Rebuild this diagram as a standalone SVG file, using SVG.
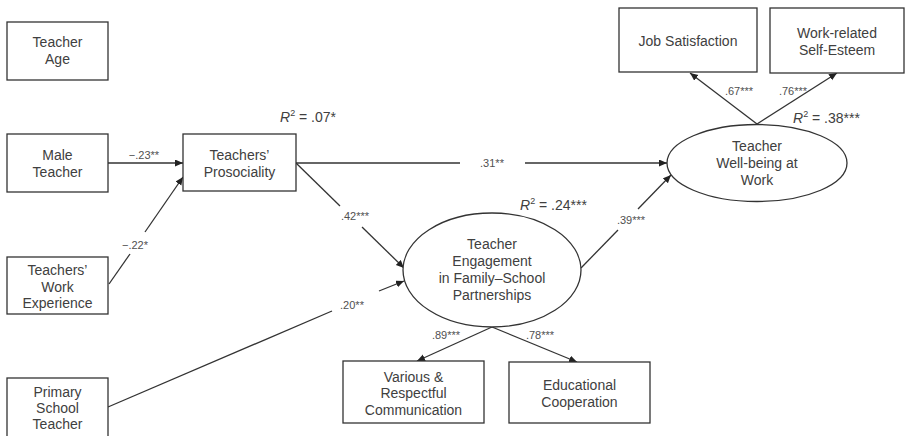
<svg xmlns="http://www.w3.org/2000/svg" width="906" height="436" viewBox="0 0 906 436">
<defs>
<style>
.box{fill:#fff;stroke:#333;stroke-width:1.3}
.ell{fill:#fff;stroke:#333;stroke-width:1.3}
.t{font-family:"Liberation Sans",Arial,sans-serif;font-size:14px;fill:#404040;text-anchor:middle}
.c{font-family:"Liberation Sans",Arial,sans-serif;font-size:11px;fill:#505050;text-anchor:middle}
.r{font-family:"Liberation Sans",Arial,sans-serif;font-size:14px;fill:#404040}
.ln{stroke:#333;stroke-width:1.3;fill:none}
</style>
<marker id="ah" markerUnits="userSpaceOnUse" markerWidth="9" markerHeight="8" refX="8" refY="3.5" orient="auto">
<path d="M0,0 L8,3.5 L0,7 z" fill="#222"/>
</marker>
</defs>
<rect width="906" height="436" fill="#fff"/>

<g id="connectors">
<line class="ln" x1="108" y1="163" x2="183" y2="163" marker-end="url(#ah)"/>
<line class="ln" x1="109" y1="284" x2="130" y2="254"/>
<line class="ln" x1="145" y1="232" x2="183" y2="177" marker-end="url(#ah)"/>
<line class="ln" x1="296" y1="163" x2="460" y2="163"/>
<line class="ln" x1="525" y1="163" x2="667" y2="163" marker-end="url(#ah)"/>
<line class="ln" x1="296" y1="163" x2="340" y2="206"/>
<line class="ln" x1="362" y1="227" x2="404" y2="268" marker-end="url(#ah)"/>
<line class="ln" x1="108" y1="407" x2="332" y2="311"/>
<line class="ln" x1="379" y1="291" x2="404" y2="281" marker-end="url(#ah)"/>
<line class="ln" x1="581" y1="268" x2="618" y2="230"/>
<line class="ln" x1="638" y1="209" x2="671" y2="175" marker-end="url(#ah)"/>
<line class="ln" x1="757" y1="124" x2="690" y2="73" marker-end="url(#ah)"/>
<line class="ln" x1="757" y1="124" x2="837" y2="73" marker-end="url(#ah)"/>
<line class="ln" x1="492" y1="327" x2="417" y2="361" marker-end="url(#ah)"/>
<line class="ln" x1="492" y1="327" x2="577" y2="362" marker-end="url(#ah)"/>
<text class="c" x="144" y="159">−.23**</text>
<text class="c" x="135" y="249">−.22*</text>
<text class="c" x="492" y="167">.31**</text>
<text class="c" x="355" y="220">.42***</text>
<text class="c" x="352" y="309">.20**</text>
<text class="c" x="631" y="224">.39***</text>
<text class="c" x="739" y="95">.67***</text>
<text class="c" x="793" y="95">.76***</text>
<text class="c" x="446" y="339">.89***</text>
<text class="c" x="540" y="339">.78***</text>
</g>

<g id="teacher-age">
<rect class="box" x="7" y="22" width="101" height="58"/>
<text class="t" x="57.5" y="47">Teacher</text>
<text class="t" x="57.5" y="64">Age</text>
</g>
<g id="male-teacher">
<rect class="box" x="7" y="134" width="101" height="58"/>
<text class="t" x="57.5" y="160">Male</text>
<text class="t" x="57.5" y="177">Teacher</text>
</g>
<g id="work-experience">
<rect class="box" x="7" y="257" width="101" height="57"/>
<text class="t" x="57.5" y="275">Teachers’</text>
<text class="t" x="57.5" y="292">Work</text>
<text class="t" x="57.5" y="308">Experience</text>
</g>
<g id="primary-teacher">
<rect class="box" x="7" y="378" width="101" height="61"/>
<text class="t" x="57.5" y="397">Primary</text>
<text class="t" x="57.5" y="413">School</text>
<text class="t" x="57.5" y="429">Teacher</text>
</g>
<g id="prosociality">
<rect class="box" x="183" y="134" width="113" height="57"/>
<text class="t" x="239.5" y="160">Teachers’</text>
<text class="t" x="239.5" y="177">Prosociality</text>
<text class="r" x="280" y="122"><tspan font-style="italic">R</tspan><tspan font-size="9" dy="-6">2</tspan><tspan dy="6"> = .07*</tspan></text>
</g>
<g id="engagement">
<ellipse class="ell" cx="492" cy="270" rx="89" ry="57"/>
<text class="t" x="492" y="249">Teacher</text>
<text class="t" x="492" y="266">Engagement</text>
<text class="t" x="492" y="283">in Family–School</text>
<text class="t" x="492" y="300">Partnerships</text>
<text class="r" x="520" y="210"><tspan font-style="italic">R</tspan><tspan font-size="9" dy="-6">2</tspan><tspan dy="6"> = .24***</tspan></text>
</g>
<g id="wellbeing">
<ellipse class="ell" cx="757" cy="163" rx="90" ry="38.5"/>
<text class="t" x="757" y="151">Teacher</text>
<text class="t" x="757" y="168">Well-being at</text>
<text class="t" x="757" y="185">Work</text>
<text class="r" x="793" y="123"><tspan font-style="italic">R</tspan><tspan font-size="9" dy="-6">2</tspan><tspan dy="6"> = .38***</tspan></text>
</g>
<g id="job-satisfaction">
<rect class="box" x="619" y="8" width="138" height="64"/>
<text class="t" x="688" y="46">Job Satisfaction</text>
</g>
<g id="self-esteem">
<rect class="box" x="770" y="8" width="134" height="65"/>
<text class="t" x="837" y="38">Work-related</text>
<text class="t" x="837" y="55">Self-Esteem</text>
</g>
<g id="communication">
<rect class="box" x="343" y="361" width="141" height="62"/>
<text class="t" x="413.5" y="382">Various &amp;</text>
<text class="t" x="413.5" y="398">Respectful</text>
<text class="t" x="413.5" y="415">Communication</text>
</g>
<g id="cooperation">
<rect class="box" x="509" y="362" width="141" height="61"/>
<text class="t" x="579.5" y="390">Educational</text>
<text class="t" x="579.5" y="407">Cooperation</text>
</g>
</svg>
